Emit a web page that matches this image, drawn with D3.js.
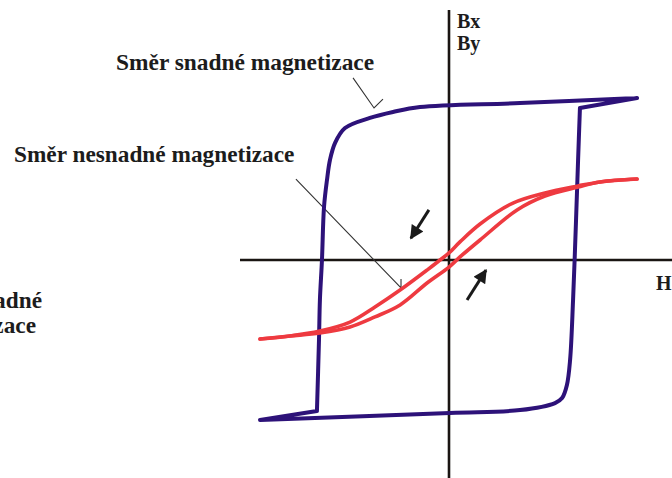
<!DOCTYPE html>
<html>
<head>
<meta charset="utf-8">
<script src="https://cdn.jsdelivr.net/npm/d3@7"></script>
<style>
  html, body { margin: 0; padding: 0; background: #fff; }
  svg { display: block; }
  text { font-family: "Liberation Serif", "Times New Roman", serif; font-weight: bold; fill: #1c1c1c; }
</style>
</head>
<body>
<svg id="chart" width="672" height="478"></svg>
<script>
// Easy-axis loop (Bx): [H, B] pairs, split into pieces between sharp corners
const easyFoot = [[-10.16, -10.0], [-7.10, -9.44]];
const easyRise = [
  [-7.10, -9.44], [-6.99, -5.0], [-6.94, -2.5], [-6.83, 0.0],
  [-6.72, 3.31], [-6.56, 5.0], [-6.40, 6.25], [-6.13, 7.31], [-5.59, 8.25],
  [-4.25, 8.88], [-3.01, 9.25], [-1.56, 9.56], [3.82, 9.81], [10.11, 10.13]
];
const easyHook = [[10.11, 10.13], [7.04, 9.5]];
const easyFall = [
  [7.04, 9.5], [6.94, 6.25], [6.83, 2.5], [6.67, -2.5], [6.51, -6.25],
  [6.34, -7.81], [6.08, -8.63], [5.70, -8.94], [3.82, -9.38], [0.05, -9.56],
  [-10.16, -10.0]
];

// Hard-axis loop (By): descending branch then ascending branch
const hardDown = [
  [10.11, 5.06], [8.12, 4.88], [6.94, 4.63], [5.16, 4.19], [3.44, 3.56],
  [1.67, 2.25], [0.59, 1.13], [0.0, 0.44], [-0.48, 0.0], [-1.18, -0.63],
  [-2.63, -1.88], [-3.98, -2.94], [-5.32, -3.88], [-6.94, -4.44], [-8.55, -4.75],
  [-10.16, -4.94]
];
const hardUp = [
  [-10.16, -4.94], [-8.55, -4.75], [-6.94, -4.56], [-5.32, -4.19], [-3.98, -3.56],
  [-2.63, -2.81], [-1.18, -1.44], [0.0, -0.44], [0.59, 0.19], [1.67, 1.25],
  [3.66, 3.13], [5.16, 4.0], [6.94, 4.56], [8.12, 4.88], [10.11, 5.06]
];

// Direction arrows: [fromH, fromB, toH, toB]
const arrows = [
  [-1.08, 3.13, -2.05, 1.36],
  [0.97, -2.5, 1.99, -0.63]
];

// Text labels
const axisLabels = { x: "H", y: ["Bx", "By"] };
const easyLabel = "Směr snadné magnetizace";
const hardLabel = "Směr nesnadné magnetizace";
const sideLabel = ["Směr snadné", "magnetizace"];

// Leader lines in data units: [H, B] polylines
const easyLeader = [[-5.16, 11.38], [-4.03, 9.5], [-3.55, 10.06]];
const hardLeader = [[-8.23, 5.06], [-2.58, -1.75], [-2.58, -1.19]];

const svg = d3.select("#chart");
const x = d3.scaleLinear().domain([-10, 10]).range([263, 635]);
const y = d3.scaleLinear().domain([-10, 10]).range([420, 100]);

// Axes through the origin
svg.append("line")
  .attr("x1", 240).attr("x2", 672)
  .attr("y1", y(0)).attr("y2", y(0))
  .attr("stroke", "#1a1512").attr("stroke-width", 2.6);
svg.append("line")
  .attr("x1", x(0)).attr("x2", x(0))
  .attr("y1", 10).attr("y2", 478)
  .attr("stroke", "#1a1512").attr("stroke-width", 2.6);

const curve = d3.line()
  .x(d => x(d[0])).y(d => y(d[1]))
  .curve(d3.curveCatmullRom.alpha(0.5));
const straight = d3.line().x(d => x(d[0])).y(d => y(d[1]));

// Leader lines
[easyLeader, hardLeader].forEach(pts => {
  svg.append("path").attr("d", straight(pts))
    .attr("fill", "none").attr("stroke", "#333").attr("stroke-width", 1.1);
});

// Easy-axis loop: straight pieces at the tips, smooth pieces elsewhere
const easyPath = [
  straight(easyFoot), curve(easyRise), straight(easyHook), curve(easyFall)
].join(" ");
svg.append("path").attr("d", easyPath)
  .attr("fill", "none").attr("stroke", "#2d1279").attr("stroke-width", 4)
  .attr("stroke-linejoin", "round").attr("stroke-linecap", "round");

// Hard-axis loop
[hardDown, hardUp].forEach(pts => {
  svg.append("path").attr("d", curve(pts))
    .attr("fill", "none").attr("stroke", "#ee3a40").attr("stroke-width", 3.6)
    .attr("stroke-linecap", "round");
});

// Arrows
const defs = svg.append("defs");
defs.append("marker").attr("id", "head")
  .attr("viewBox", "0 0 10 10").attr("refX", 9).attr("refY", 5)
  .attr("markerWidth", 5.2).attr("markerHeight", 4.6)
  .attr("markerUnits", "strokeWidth").attr("orient", "auto")
  .append("path").attr("d", "M0,0 L10,5 L0,10 Z").attr("fill", "#1a1a1a");
arrows.forEach(a => {
  svg.append("line")
    .attr("x1", x(a[0])).attr("y1", y(a[1]))
    .attr("x2", x(a[2])).attr("y2", y(a[3]))
    .attr("stroke", "#1a1a1a").attr("stroke-width", 3)
    .attr("marker-end", "url(#head)");
});

// Labels
svg.append("text").attr("x", 457).attr("y", 28).attr("font-size", 20).text(axisLabels.y[0]);
svg.append("text").attr("x", 457).attr("y", 50).attr("font-size", 20).text(axisLabels.y[1]);
svg.append("text").attr("x", 656).attr("y", 290).attr("font-size", 20).text(axisLabels.x);
svg.append("text").attr("x", 116).attr("y", 70).attr("font-size", 23.4).text(easyLabel);
svg.append("text").attr("x", 14).attr("y", 162).attr("font-size", 23.3).text(hardLabel);
svg.append("text").attr("x", 42).attr("y", 308).attr("font-size", 23.3)
  .attr("text-anchor", "end").text(sideLabel[0]);
svg.append("text").attr("x", 36).attr("y", 333).attr("font-size", 23.3)
  .attr("text-anchor", "end").text(sideLabel[1]);
</script>
</body>
</html>
